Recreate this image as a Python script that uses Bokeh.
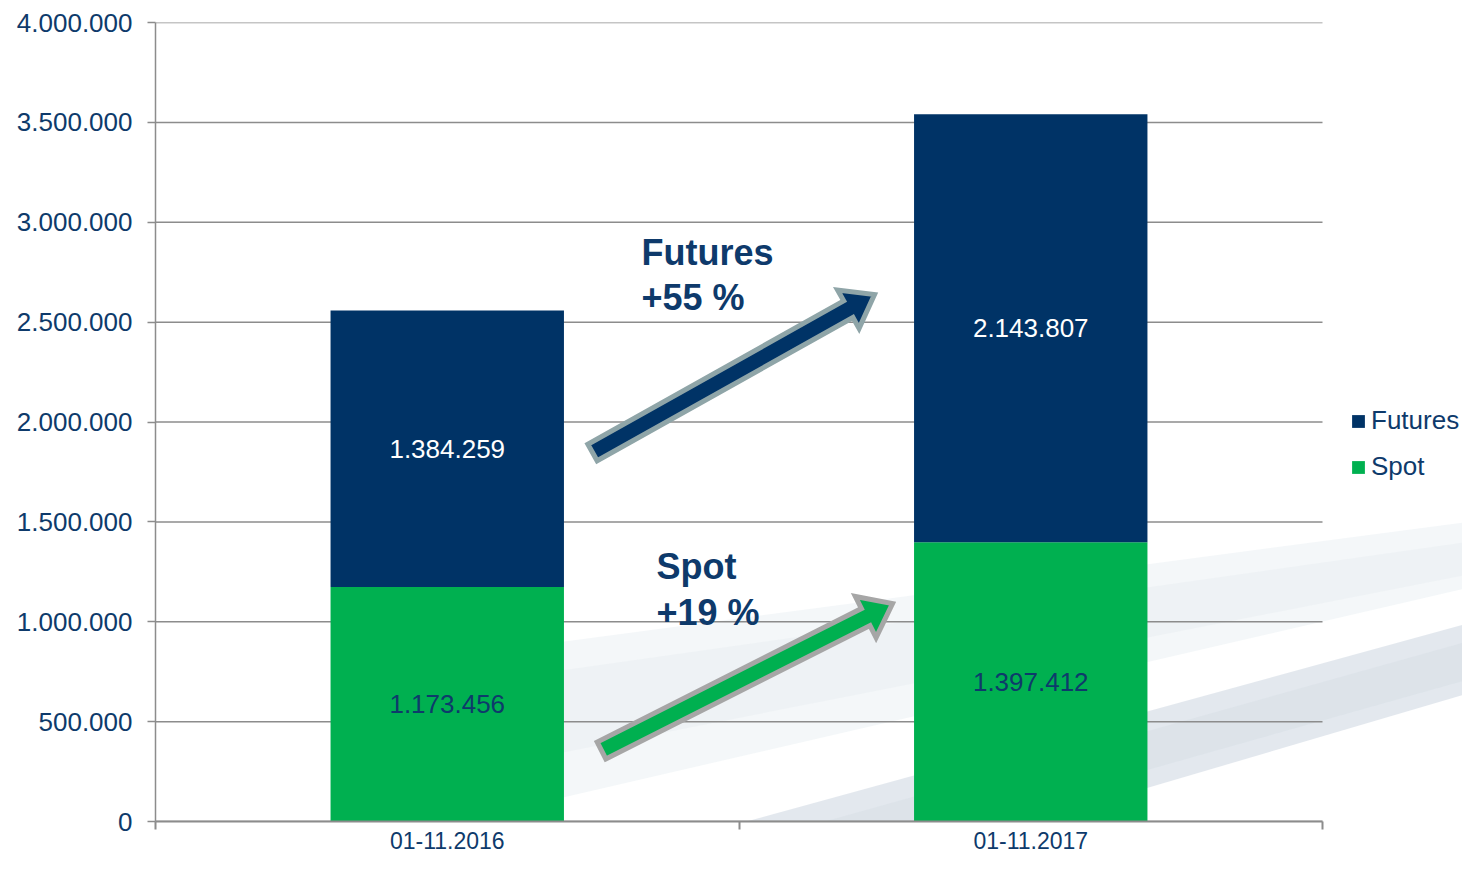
import math
from bokeh.plotting import figure
from bokeh.models import (FixedTicker, Legend, LegendItem, Label, ColumnDataSource, Range1d)
from bokeh.embed import file_html
from bokeh.resources import INLINE
from bokeh.core.properties import value

# ---------------- data ----------------
categories = ["01-11.2016", "01-11.2017"]
spot = [1173456, 1397412]
futures = [1384259, 2143807]
spot_labels = ["1.173.456", "1.397.412"]
futures_labels = ["1.384.259", "2.143.807"]
y_ticks = [0, 500000, 1000000, 1500000, 2000000, 2500000, 3000000, 3500000, 4000000]
y_tick_labels = ["0", "500.000", "1.000.000", "1.500.000", "2.000.000",
                 "2.500.000", "3.000.000", "3.500.000", "4.000.000"]
futures_growth = ["Futures", "+55 %"]
spot_growth = ["Spot", "+19 %"]

# ---------------- styles ----------------
NAVY = "#003366"
GREEN = "#00B050"
TEXT = "#0E3A6B"
GRID = "#8C8C8C"
FONT = "Liberation Sans"

W, H = 1462, 855
FX0, FX1 = 155.0, 1322.0   # plot-area left/right (pixels)
FY0, FY1 = 821.0, 22.0     # plot-area bottom/top (pixels)
Y_MAX = 4000000
N = len(categories)
X_END = N * (W - FX0) / (FX1 - FX0)   # frame runs to the right edge (room for legend)

p = figure(width=W, height=H, x_range=Range1d(0, X_END), y_range=Range1d(0, Y_MAX),
           output_backend="svg", toolbar_location=None,
           min_border_left=int(FX0), min_border_right=0, min_border_top=int(FY1),
           min_border_bottom=int(H - FY0))
p.outline_line_color = None
p.background_fill_color = "white"
p.border_fill_color = "white"

# helpers mapping pixel positions (annotation placement) to data space
def dx(px):
    return (px - FX0) / (FX1 - FX0) * N
def dy(py):
    return (FY0 - py) / (FY0 - FY1) * Y_MAX

# faint background bands (architectural backdrop)
bands = [
    ([(420, 660), (1478, 520), (1478, 585), (420, 830)], "#dce3ea", 0.30),
    ([(420, 690), (1478, 540), (1478, 572), (420, 780)], "#dce3ea", 0.22),
    ([(560, 872), (1478, 620), (1478, 690), (560, 960)], "#ccd6e0", 0.55),
    ([(560, 895), (1478, 638), (1478, 676), (560, 935)], "#ccd6e0", 0.28),
]
for pts, col, a in bands:
    p.patch([dx(x) for x, _ in pts], [dy(y) for _, y in pts], fill_color=col,
            fill_alpha=a, line_color=None, level="image")

# horizontal gridlines, limited to the category span
p.xgrid.visible = False
p.ygrid.visible = False
p.segment(x0=[0] * len(y_ticks), x1=[N] * len(y_ticks), y0=y_ticks, y1=y_ticks,
          line_color=GRID, line_width=1.5, level="underlay")

xs = [i + 0.5 for i in range(N)]
src = ColumnDataSource(dict(x=xs, spot=spot, futures=futures))
rs = p.vbar_stack(["spot", "futures"], x="x", width=0.4, source=src,
                  fill_color=[GREEN, NAVY], line_color=None)
r_spot, r_fut = rs

# bar value labels
spot_mid = [s / 2 for s in spot]
fut_mid = [s + f / 2 for s, f in zip(spot, futures)]
p.text(x=xs, y=spot_mid, text=spot_labels, text_align="center", text_baseline="middle",
       text_font=value(FONT), text_font_size="26px", text_color=TEXT)
p.text(x=xs, y=fut_mid, text=futures_labels, text_align="center", text_baseline="middle",
       text_font=value(FONT), text_font_size="26px", text_color="white")

# arrows
def arrow(x0, y0, x1, y1, hw, head_hw, head_len, fill, outline):
    L = math.hypot(x1 - x0, y1 - y0)
    ux, uy = (x1 - x0) / L, (y1 - y0) / L
    nx, ny = -uy, ux
    bx, by = x1 - ux * head_len, y1 - uy * head_len
    pts = [(x0 + nx * hw, y0 + ny * hw), (bx + nx * hw, by + ny * hw),
           (bx + nx * head_hw, by + ny * head_hw), (x1, y1),
           (bx - nx * head_hw, by - ny * head_hw), (bx - nx * hw, by - ny * hw),
           (x0 - nx * hw, y0 - ny * hw)]
    p.patch([dx(x) for x, _ in pts], [dy(y) for _, y in pts], fill_color=fill,
            line_color=outline, line_width=5, line_join="miter")

arrow(592, 452, 874, 294, 9.5, 22, 30, NAVY, "#8FA5A8")
arrow(601, 750, 892, 603, 9.5, 23, 30, GREEN, "#A6A6A6")

# growth annotations
for lines, px, pys in [(futures_growth, 641, (252, 297)), (spot_growth, 656, (566, 612))]:
    for t, py in zip(lines, pys):
        p.add_layout(Label(x=dx(px), y=dy(py), text=t, text_font=FONT, text_font_size="36px",
                           text_font_style="bold", text_color=TEXT, text_baseline="alphabetic"))

# axes
p.yaxis.ticker = FixedTicker(ticks=y_ticks)
p.yaxis.major_label_overrides = dict(zip(y_ticks, y_tick_labels))
p.yaxis.major_tick_out = 8
p.yaxis.major_tick_in = 0
p.yaxis.minor_tick_line_color = None
p.yaxis.major_label_standoff = 15
p.yaxis.axis_line_color = GRID
p.yaxis.axis_line_width = 1.5
p.yaxis.major_tick_line_color = GRID
p.yaxis.major_tick_line_width = 1.5
p.yaxis.major_label_text_font = FONT
p.yaxis.major_label_text_font_size = "26px"
p.yaxis.major_label_text_color = TEXT

p.xaxis.bounds = (0, N)
p.xaxis.ticker = FixedTicker(ticks=xs, minor_ticks=list(range(N + 1)))
p.xaxis.major_label_overrides = dict(zip(xs, categories))
p.xaxis.major_tick_line_color = None
p.xaxis.major_tick_out = 0
p.xaxis.major_tick_in = 0
p.xaxis.minor_tick_out = 8
p.xaxis.minor_tick_in = 0
p.xaxis.minor_tick_line_color = GRID
p.xaxis.minor_tick_line_width = 2
p.xaxis.axis_line_color = GRID
p.xaxis.axis_line_width = 2
p.xaxis.major_label_standoff = 2
p.xaxis.major_label_text_font = FONT
p.xaxis.major_label_text_font_size = "23px"
p.xaxis.major_label_text_color = TEXT

legend = Legend(items=[LegendItem(label="Futures", renderers=[r_fut]),
                       LegendItem(label="Spot", renderers=[r_spot])],
                location=(1195, 339), padding=0, margin=0, spacing=15,
                glyph_width=16, glyph_height=16, label_height=26, label_standoff=5,
                label_text_font=FONT, label_text_font_size="26px", label_text_color=TEXT,
                border_line_color=None, background_fill_alpha=0)
p.add_layout(legend)

open("out.html", "w").write(file_html(p, INLINE))
